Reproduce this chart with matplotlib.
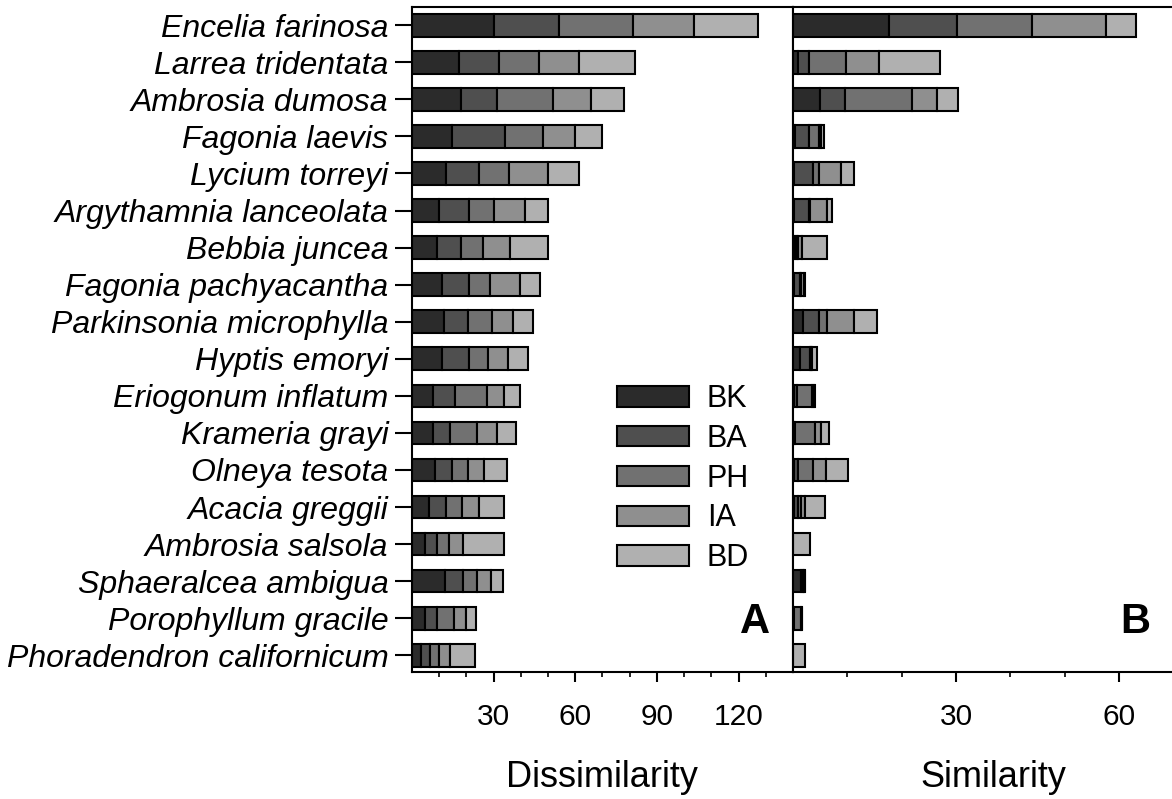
import matplotlib
matplotlib.use("Agg")
import matplotlib.pyplot as plt
import numpy as np
from matplotlib.patches import Patch
from matplotlib.ticker import FixedLocator

plt.rcParams['font.family'] = ['Liberation Sans', 'DejaVu Sans']

species = ['Encelia farinosa', 'Larrea tridentata', 'Ambrosia dumosa', 'Fagonia laevis',
           'Lycium torreyi', 'Argythamnia lanceolata', 'Bebbia juncea', 'Fagonia pachyacantha',
           'Parkinsonia microphylla', 'Hyptis emoryi', 'Eriogonum inflatum', 'Krameria grayi',
           'Olneya tesota', 'Acacia greggii', 'Ambrosia salsola', 'Sphaeralcea ambigua',
           'Porophyllum gracile', 'Phoradendron californicum']
sites = ['BK', 'BA', 'PH', 'IA', 'BD']
site_colors = ['#2b2b2b', '#4f4f4f', '#717171', '#8f8f8f', '#b0b0b0']

# dissimilarity contributions per site (BK, BA, PH, IA, BD)
dis_bk = [30.3, 17.4, 18.0, 14.8, 12.5, 9.8, 9.1, 10.9, 11.6, 10.9, 7.7, 7.7, 8.5, 6.4, 4.8, 12.0, 4.8, 3.3]
dis_ba = [23.7, 14.6, 13.1, 19.5, 12.1, 11.0, 8.9, 10.0, 8.9, 9.9, 8.2, 6.3, 6.1, 6.0, 4.4, 6.7, 4.3, 3.3]
dis_ph = [27.1, 14.7, 20.7, 13.7, 11.2, 9.3, 8.2, 7.8, 8.8, 7.1, 11.8, 10.0, 6.1, 6.1, 4.5, 5.3, 6.3, 3.4]
dis_ia = [22.4, 14.8, 14.0, 12.0, 14.1, 11.3, 9.8, 11.0, 7.9, 7.5, 6.1, 7.1, 5.9, 6.2, 5.0, 4.9, 4.4, 4.0]
dis_bd = [23.5, 20.3, 12.0, 9.8, 11.5, 8.6, 14.0, 7.3, 7.1, 7.1, 5.9, 7.0, 8.2, 9.2, 15.1, 4.6, 3.7, 9.3]

# similarity contributions per site (BK, BA, PH, IA, BD)
sim_bk = [17.6, 0.9, 5.0, 0.3, 0.2, 0.2, 0.3, 0.1, 1.9, 1.2, 0.2, 0.2, 0.2, 0.2, 0.0, 1.5, 0.0, 0.0]
sim_ba = [12.5, 2.0, 4.5, 2.6, 3.4, 2.7, 0.4, 1.1, 2.8, 1.9, 0.6, 0.2, 0.8, 0.8, 0.0, 0.3, 0.1, 0.0]
sim_ph = [13.8, 6.8, 12.3, 1.8, 1.2, 0.3, 0.3, 0.3, 1.6, 0.2, 2.7, 3.6, 2.6, 0.4, 0.0, 0.2, 1.3, 0.0]
sim_ia = [13.6, 6.2, 4.6, 0.5, 4.1, 3.1, 0.7, 0.6, 4.9, 0.2, 0.3, 1.2, 2.5, 0.8, 0.0, 0.2, 0.2, 0.0]
sim_bd = [5.5, 11.1, 3.9, 0.5, 2.3, 0.9, 4.5, 0.2, 4.2, 0.9, 0.3, 1.4, 4.0, 3.7, 3.2, 0.1, 0.1, 2.2]

dis = [dis_bk, dis_ba, dis_ph, dis_ia, dis_bd]
sim = [sim_bk, sim_ba, sim_ph, sim_ia, sim_bd]

fig = plt.figure(figsize=(11.72, 7.99), dpi=100)
ax1 = fig.add_axes([0.3515, 0.1590, 0.3251, 0.8326])
ax2 = fig.add_axes([0.6766, 0.1590, 0.3234, 0.8326])

ypos = np.arange(len(species))


def stacked(ax, parts):
    left = np.zeros(len(species))
    for vals, col, name in zip(parts, site_colors, sites):
        ax.barh(ypos, vals, left=left, height=0.61, color=col,
                edgecolor='black', linewidth=1.5, label=name)
        left += np.array(vals)


stacked(ax1, dis)
stacked(ax2, sim)

for ax in (ax1, ax2):
    ax.set_ylim(17.45, -0.5)
    for s in ax.spines.values():
        s.set_linewidth(1.5)
    ax.tick_params(axis='x', which='major', direction='out', length=7, width=1.5,
                   pad=15, labelsize=21.5)
    ax.tick_params(axis='x', which='minor', direction='out', length=3.6, width=1.2)

ax1.set_xlim(0, 140)
ax1.xaxis.set_major_locator(FixedLocator([30, 60, 90, 120]))
ax1.xaxis.set_minor_locator(FixedLocator([10, 20, 40, 50, 70, 80, 100, 110, 130]))
ax1.set_yticks(ypos)
ax1.set_yticklabels(species, fontsize=23, style='italic')
ax1.tick_params(axis='y', direction='out', length=12, width=1.5, pad=5)

ax2.set_xlim(0, 69.7)
ax2.xaxis.set_major_locator(FixedLocator([30, 60]))
ax2.xaxis.set_minor_locator(FixedLocator([10, 20, 40, 50]))
ax2.set_yticks([])
ax2.spines['right'].set_visible(False)

ax1.set_xlabel('Dissimilarity', fontsize=26)
ax1.xaxis.set_label_coords(0.50, -0.159)
ax1.xaxis.label.set_va('center')
ax2.set_xlabel('Similarity', fontsize=26)
ax2.xaxis.set_label_coords(0.53, -0.159)
ax2.xaxis.label.set_va('center')

ax1.text(0.90, 0.075, 'A', transform=ax1.transAxes, fontsize=30, fontweight='bold',
         ha='center', va='center')
ax2.text(0.902, 0.075, 'B', transform=ax2.transAxes, fontsize=30, fontweight='bold',
         ha='center', va='center')

handles = [Patch(facecolor=c, edgecolor='black', linewidth=1.5, label=n)
           for c, n in zip(site_colors, sites)]
ax1.legend(handles=handles, loc='center left', bbox_to_anchor=(0.538, 0.2905),
           frameon=False, fontsize=22, handlelength=2.36, handleheight=0.65,
           handletextpad=0.58, labelspacing=0.32, borderpad=0, borderaxespad=0)

fig.savefig('out.png', dpi=100)
